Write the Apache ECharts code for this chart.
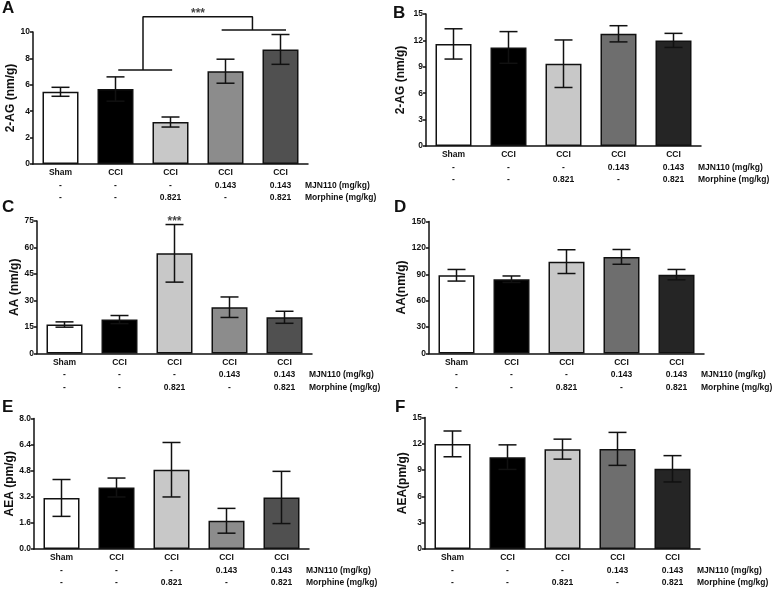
<!DOCTYPE html>
<html>
<head>
<meta charset="utf-8">
<script src="https://cdn.jsdelivr.net/npm/echarts@6/dist/echarts.min.js"></script>
<style>
  html, body { margin: 0; padding: 0; background: #ffffff; }
  #chart { width: 775px; height: 589px; }
</style>
</head>
<body>
<div id="chart"></div>
<script>
// 分组标签（三行）
const groupLabels = ['Sham', 'CCI', 'CCI', 'CCI', 'CCI'];
const mjn110Doses = ['-', '-', '-', '0.143', '0.143'];
const morphineDoses = ['-', '-', '0.821', '-', '0.821'];

// A: 2-AG (nm/g)
const meanA = [5.47, 5.68, 3.18, 7.03, 8.68];
const semA = [0.34, 0.92, 0.38, 0.91, 1.13];
// B: 2-AG (nm/g)
const meanB = [11.6, 11.2, 9.35, 12.75, 12.0];
const semB = [1.72, 1.8, 2.7, 0.92, 0.8];
// C: AA (nm/g)
const meanC = [16.4, 19.2, 56.7, 26.2, 20.5];
const semC = [1.5, 2.3, 16.3, 5.8, 3.4];
// D: AA (nm/g)
const meanD = [88.9, 84.4, 104.4, 109.8, 89.6];
const semD = [6.6, 3.7, 13.5, 8.4, 5.9];
// E: AEA (pm/g)
const meanE = [3.13, 3.77, 4.86, 1.73, 3.16];
const semE = [1.13, 0.58, 1.67, 0.76, 1.6];
// F: AEA (pm/g)
const meanF = [11.99, 10.48, 11.39, 11.42, 9.15];
const semF = [1.47, 1.4, 1.14, 1.88, 1.5];

// 显著性标记 (A: 括号, C: 星号)
const bracketLowA = [[1.05, 7.12], [2.03, 7.12]];
const bracketStemA = [[1.5, 7.12], [1.5, 11.16], [3.49, 11.16], [3.49, 10.15]];
const bracketHighA = [[2.93, 10.15], [4.1, 10.15]];
const starsA = [[2.5, 11.16]];
const starsC = [[2, 72.9]];

// 颜色
const greysA = ['#ffffff', '#000000', '#c8c8c8', '#8c8c8c', '#505050'];
const greysB = ['#ffffff', '#000000', '#c8c8c8', '#6e6e6e', '#252525'];

const FONT = '"Liberation Sans", Arial, sans-serif';
const INK = '#111111';

// 面板布局
const panels = [
  { letter: 'A', lx: 2, ly: 0, left: 33, top: 32, height: 132, yName: '2-AG (nm/g)', nameGap: 15, max: 10, interval: 2, dec: 0, mean: meanA, sem: semA, colors: greysA },
  { letter: 'B', lx: 393, ly: 5, left: 426, top: 14, height: 132, yName: '2-AG (nm/g)', nameGap: 19, max: 15, interval: 3, dec: 0, mean: meanB, sem: semB, colors: greysB },
  { letter: 'C', lx: 2, ly: 199, left: 37, top: 221, height: 132.5, yName: 'AA (nm/g)', nameGap: 16, max: 75, interval: 15, dec: 0, mean: meanC, sem: semC, colors: greysA },
  { letter: 'D', lx: 394, ly: 199, left: 429, top: 221.5, height: 132, yName: 'AA(nm/g)', nameGap: 20, max: 150, interval: 30, dec: 0, mean: meanD, sem: semD, colors: greysB },
  { letter: 'E', lx: 2, ly: 399, left: 34, top: 418.5, height: 130.5, yName: 'AEA (pm/g)', nameGap: 17, max: 8, interval: 1.6, dec: 1, mean: meanE, sem: semE, colors: greysA },
  { letter: 'F', lx: 395, ly: 399, left: 425, top: 417.5, height: 131.5, yName: 'AEA(pm/g)', nameGap: 15, max: 15, interval: 3, dec: 0, mean: meanF, sem: semF, colors: greysB }
];

const categories = groupLabels.map((g, i) => g + '\n' + mjn110Doses[i] + '\n' + morphineDoses[i]);

// 误差线
function renderErrorBar(params, api) {
  const idx = api.value(0);
  const lo = api.coord([idx, api.value(1)]);
  const hi = api.coord([idx, api.value(2)]);
  const half = 9;
  const mk = (x1, y1, x2, y2) => ({
    type: 'line',
    shape: { x1: x1, y1: y1, x2: x2, y2: y2 },
    style: { stroke: INK, lineWidth: 1.5 }
  });
  return {
    type: 'group',
    children: [
      mk(hi[0], lo[1], hi[0], hi[1]),
      mk(hi[0] - half, hi[1], hi[0] + half, hi[1]),
      mk(lo[0] - half, lo[1], lo[0] + half, lo[1])
    ]
  };
}

const grid = [], xAxis = [], yAxis = [], series = [], graphic = [];

panels.forEach((p, i) => {
  grid.push({ left: p.left, top: p.top, width: 275, height: p.height });
  xAxis.push({
    type: 'category',
    gridIndex: i,
    data: categories,
    axisLine: { onZero: false, lineStyle: { color: INK, width: 1.5 } },
    axisTick: { show: false },
    axisLabel: {
      interval: 0, margin: 3, color: INK, fontSize: 8.5, fontWeight: 'bold',
      fontFamily: FONT, lineHeight: 12.3
    },
    name: '\nMJN110 (mg/kg)\nMorphine (mg/kg)',
    nameLocation: 'end',
    nameGap: -3,
    nameTextStyle: {
      color: INK, fontSize: 8.5, fontWeight: 'bold', fontFamily: FONT,
      align: 'left', verticalAlign: 'top', lineHeight: 12.3, padding: [3, 0, 0, 0]
    }
  });
  yAxis.push({
    type: 'value',
    gridIndex: i,
    min: 0, max: p.max, interval: p.interval,
    splitLine: { show: false },
    axisLine: { show: true, onZero: false, lineStyle: { color: INK, width: 1.5 } },
    axisTick: { show: true, length: 3, lineStyle: { color: INK, width: 1.5 } },
    axisLabel: {
      margin: 3, color: INK, fontSize: 8.5, fontWeight: 'bold', fontFamily: FONT,
      formatter: v => v.toFixed(p.dec)
    },
    name: p.yName,
    nameLocation: 'middle',
    nameGap: p.nameGap,
    nameTextStyle: { color: INK, fontSize: 12, fontWeight: 'bold', fontFamily: FONT }
  });
  series.push({
    type: 'bar',
    xAxisIndex: i, yAxisIndex: i,
    barWidth: 36,
    data: p.mean.map((v, j) => ({ value: v, itemStyle: { color: p.colors[j] } })),
    itemStyle: { borderColor: INK, borderWidth: 1.5 },
    animation: false, silent: true
  });
  series.push({
    type: 'custom',
    xAxisIndex: i, yAxisIndex: i,
    renderItem: renderErrorBar,
    encode: { x: 0, y: [1, 2] },
    data: p.mean.map((v, j) => [j, v - p.sem[j], v + p.sem[j]]),
    z: 3, animation: false, silent: true
  });
  graphic.push({
    type: 'text', left: p.lx, top: p.ly,
    style: { text: p.letter, font: 'bold 17px ' + FONT, fill: INK }
  });
});

// A 面板括号使用隐藏的数值 x 轴
xAxis.push({ type: 'value', gridIndex: 0, min: -0.5, max: 4.5, show: false });
const bracketAxis = xAxis.length - 1;
[bracketLowA, bracketStemA, bracketHighA].forEach(d => {
  series.push({
    type: 'line', xAxisIndex: bracketAxis, yAxisIndex: 0, data: d,
    symbol: 'none', clip: false, lineStyle: { color: INK, width: 1.5 },
    animation: false, silent: true
  });
});

const starLabel = {
  show: true, formatter: '***', position: 'top', distance: -3,
  color: INK, fontSize: 12, fontWeight: 'bold', fontFamily: FONT
};
series.push({
  type: 'scatter', xAxisIndex: bracketAxis, yAxisIndex: 0, data: starsA,
  symbolSize: 1, itemStyle: { color: 'rgba(0,0,0,0)' }, clip: false,
  label: starLabel, animation: false, silent: true
});
series.push({
  type: 'scatter', xAxisIndex: 2, yAxisIndex: 2, data: starsC,
  symbolSize: 1, itemStyle: { color: 'rgba(0,0,0,0)' }, clip: false,
  label: starLabel, z: 4, animation: false, silent: true
});

const chart = echarts.init(document.getElementById('chart'));
chart.setOption({
  backgroundColor: '#ffffff',
  animation: false,
  grid: grid,
  xAxis: xAxis,
  yAxis: yAxis,
  series: series,
  graphic: graphic
});
</script>
</body>
</html>
